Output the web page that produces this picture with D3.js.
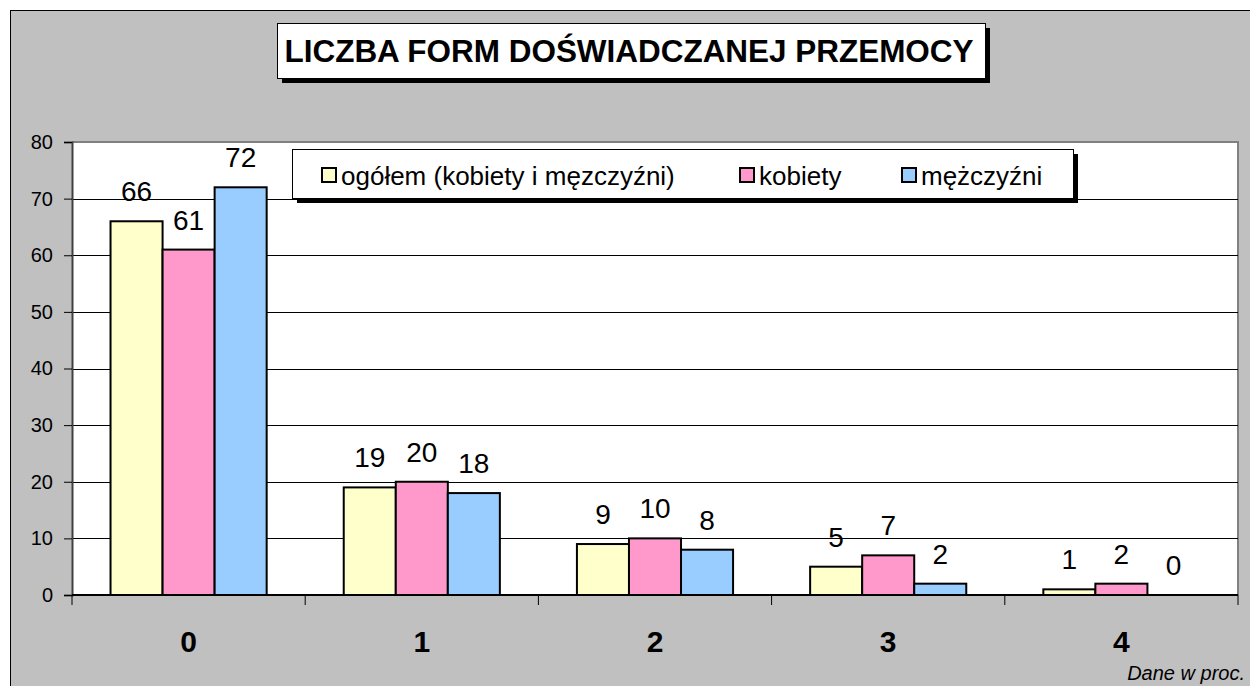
<!DOCTYPE html>
<html><head><meta charset="utf-8">
<script src="https://cdn.jsdelivr.net/npm/d3@7"></script>
<style>body{margin:0;background:#fff;}svg{display:block;font-family:Arial,"Liberation Sans",sans-serif;}</style>
</head><body>
<svg id="c" width="1250" height="686"></svg>
<script>
const categories = ["0","1","2","3","4"];
const seriesNames = ["ogółem (kobiety i męzczyźni)","kobiety","mężczyźni"];
const ogolem = [66,19,9,5,1];
const kobiety = [61,20,10,7,2];
const mezczyzni = [72,18,8,2,0];
const yTicks = [0,10,20,30,40,50,60,70,80];
const colors = ["#FFFFCC","#FF99CC","#99CCFF"];
const title = "LICZBA FORM DOŚWIADCZANEJ PRZEMOCY";
const note = "Dane w proc.";

const series = [ogolem, kobiety, mezczyzni];
const svg = d3.select("#c");
const L=72, R=1238, T=142, B=595;
const FF = "Arial, 'Liberation Sans', sans-serif";

// outer chart area
svg.append("rect").attr("x",10.5).attr("y",10.5).attr("width",1260).attr("height",700)
  .attr("fill","#C0C0C0").attr("stroke","#000").attr("stroke-width",1);

// plot area
svg.append("rect").attr("x",L).attr("y",T).attr("width",R-L).attr("height",B-T).attr("fill","#fff");
svg.append("line").attr("x1",L).attr("x2",R).attr("y1",T).attr("y2",T).attr("stroke","#808080").attr("stroke-width",2);
svg.append("line").attr("x1",R).attr("x2",R).attr("y1",T-1).attr("y2",B).attr("stroke","#808080").attr("stroke-width",2);

const y = d3.scaleLinear().domain([0,80]).range([B,T]);
const x0 = d3.scaleBand().domain(categories).range([L,R]).paddingInner(0).paddingOuter(0);
const bw = x0.bandwidth();
const x1 = d3.scaleBand().domain([0,1,2]).range([0,bw]).paddingOuter(0.5*77/52).paddingInner(0);

// gridlines
svg.append("g").selectAll("line").data(yTicks.filter(t=>t>0&&t<80)).join("line")
  .attr("x1",L).attr("x2",R).attr("y1",d=>Math.round(y(d))+0.5).attr("y2",d=>Math.round(y(d))+0.5)
  .attr("stroke","#000").attr("stroke-width",1);

// y axis
const ya = svg.append("g").attr("transform",`translate(${L},0)`)
  .call(d3.axisLeft(y).tickValues(yTicks).tickSize(8).tickPadding(11));
ya.select(".domain").attr("stroke","#404040").attr("stroke-width",2);
ya.selectAll(".tick line").attr("stroke","#000");
ya.selectAll("text").attr("font-size","20px").attr("fill","#000").attr("font-family",FF);

// bars
const g = svg.append("g");
categories.forEach((c,ci)=>{
  series.forEach((s,si)=>{
    const v = s[ci];
    const bx = x0(c)+x1(si);
    if(v>0){
      g.append("rect").attr("x",bx).attr("y",y(v)).attr("width",x1.bandwidth()).attr("height",B-y(v))
        .attr("fill",colors[si]).attr("stroke","#000").attr("stroke-width",2);
    }
    g.append("text").attr("x",bx+x1.bandwidth()/2).attr("y",y(v)-20)
      .attr("text-anchor","middle").attr("font-size","28px").attr("fill","#000").text(v);
  });
});

// x axis
svg.append("line").attr("x1",L).attr("x2",R).attr("y1",B).attr("y2",B).attr("stroke","#000").attr("stroke-width",2);
svg.append("g").selectAll("line").data(categories.concat(["end"])).join("line")
  .attr("x1",(d,i)=>L+i*bw).attr("x2",(d,i)=>L+i*bw).attr("y1",B).attr("y2",B+10)
  .attr("stroke","#000").attr("stroke-width",1);
svg.append("g").selectAll("text").data(categories).join("text")
  .attr("x",d=>x0(d)+bw/2).attr("y",652).attr("text-anchor","middle")
  .attr("font-size","30px").attr("font-weight","bold").attr("fill","#000").text(d=>d);

// title
svg.append("rect").attr("x",282).attr("y",28).attr("width",708).attr("height",55).attr("fill","#000");
svg.append("rect").attr("x",277.5).attr("y",23.5).attr("width",708).attr("height",55).attr("fill","#fff").attr("stroke","#000").attr("stroke-width",1);
svg.append("text").attr("x",629).attr("y",62).attr("text-anchor","middle")
  .attr("font-size","31px").attr("font-weight","bold").attr("fill","#000")
  .attr("textLength",689).attr("lengthAdjust","spacingAndGlyphs").text(title);

// legend
svg.append("rect").attr("x",297).attr("y",154).attr("width",781).attr("height",49).attr("fill","#000");
svg.append("rect").attr("x",292.5).attr("y",149.5).attr("width",781).attr("height",49).attr("fill","#fff").attr("stroke","#000").attr("stroke-width",1);
const legX = [322,740,902];
seriesNames.forEach((n,i)=>{
  svg.append("rect").attr("x",legX[i]).attr("y",168).attr("width",14).attr("height",14)
    .attr("fill",colors[i]).attr("stroke","#000").attr("stroke-width",2);
  svg.append("text").attr("x",legX[i]+19).attr("y",185).attr("font-size","26px").attr("fill","#000").text(n);
});

// note
svg.append("text").attr("x",1245).attr("y",680).attr("text-anchor","end")
  .attr("font-size","20px").attr("font-style","italic").attr("fill","#000").text(note);
</script>
</body></html>
